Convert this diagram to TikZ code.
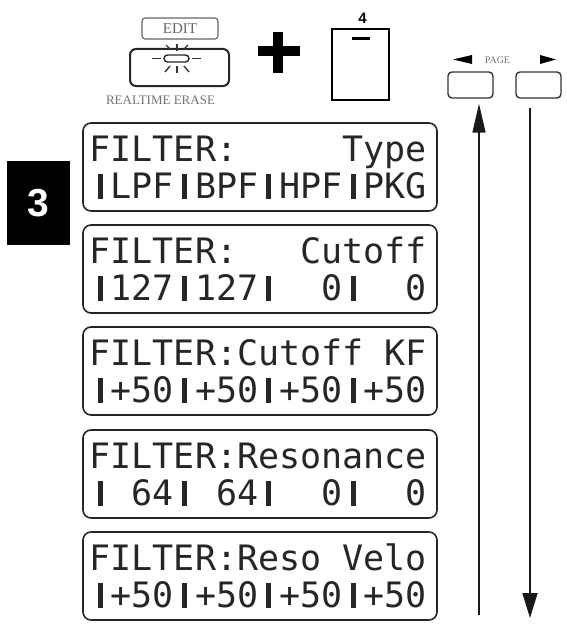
\documentclass[tikz,border=0pt]{standalone}
\usepackage{fontspec}
\usepackage{tikz}
\setmainfont{Liberation Serif}
\newfontfamily\lcdfont{DejaVu Sans Mono}
\newfontfamily\keyfont{Liberation Sans}
\newcommand{\sepbar}{\makebox[21.07pt]{\rule{5pt}{25pt}}}
\tikzset{>=stealth}
\usetikzlibrary{arrows.meta, positioning}
\tikzset{
  lcdframe/.style={draw=black!85, line width=1.6pt, rounded corners=8pt, minimum width=354pt, minimum height=88pt, inner sep=0pt},
  lcdrow/.style={anchor=base west, inner sep=0pt, text=black!85, font=\lcdfont\fontsize{35}{37}\selectfont},
  pagebtn/.style={draw=black!80, line width=1.4pt, rounded corners=4pt, minimum width=45pt, minimum height=26pt, inner sep=0pt},
  pagearrow/.style={line width=1.6pt, draw=black!90},
  ray/.style={line width=1.4pt, draw=black!80},
  smalllabel/.style={text=black!55, inner sep=0pt}
}

\begin{document}
\begin{tikzpicture}[x=1pt, y=-1pt]
  \useasboundingbox (0,0) rectangle (567,626);
  % step number
  \node[fill=black, minimum width=63pt, minimum height=84pt, inner sep=0pt, text=white, font=\keyfont\bfseries\fontsize{39}{39}\selectfont] (stepno) at (38.5,203) {3};
  % EDIT key
  \node[draw=black!60, line width=1.2pt, rounded corners=3pt, minimum width=76pt, minimum height=21pt, inner sep=0pt, text=black!60, font=\fontsize{15}{15}\selectfont] (editlbl) at (180,28.5) {EDIT};
  \node[draw=black!85, line width=2pt, rounded corners=6pt, minimum width=99pt, minimum height=37pt, inner sep=0pt] (editkey) at (179.5,67.5) {};
  \node[draw=black!85, line width=1.4pt, rounded corners=3.5pt, minimum width=25pt, minimum height=7pt, inner sep=0pt] (lamp) at (176.5,58.5) {};
  \foreach \xa/\ya/\xb/\yb in {152/58.5/161/58.5, 192/58.5/201/58.5, 177/44/177/51, 166/45/171/50, 188/45/183/50, 170/66/165/72, 177/66/177/73, 184/66/189/72}
    \draw[ray] (\xa,\ya) -- (\xb,\yb);
  \node[smalllabel, font=\fontsize{13}{13}\selectfont] (erase) at (160.5,100.5) {REALTIME ERASE};
  % plus
  \fill (258,46) rectangle (300,56);
  \fill (273,32) rectangle (283,73);
  % key 4
  \node[draw, line width=1.5pt, minimum width=57pt, minimum height=71pt, inner sep=0pt] (keyfour) at (360.5,64.5) {};
  \draw[line width=3pt] (352,39) -- (370,39);
  \node[inner sep=0pt, font=\keyfont\bfseries\fontsize{15}{15}\selectfont] (keyfournum) at (362.5,18.5) {4};
  % page keys
  \node[smalllabel, font=\fontsize{10}{10}\selectfont] (pagelbl) at (497.5,60) {PAGE};
  \fill (453,59.5) -- (472,55) -- (472,64) -- cycle;
  \fill (556,59.5) -- (540,55) -- (540,64) -- cycle;
  \node[pagebtn] (pageprev) at (470.5,85) {};
  \node[pagebtn] (pagenext) at (538.5,85) {};
  \coordinate (upfoot) at (479,615);
  \coordinate (downtip) at (530,618);
  \draw[pagearrow, -{Triangle[length=29pt,width=13pt]}] (upfoot) -- ([yshift=-5pt]pageprev.south -| upfoot);
  \draw[pagearrow, -{Triangle[length=25pt,width=15pt]}] ([yshift=-9pt]pagenext.south -| downtip) -- (downtip);
  % LCD screens
  \foreach \ty/\rowa/\rowb [count=\i] in {
      123/{FILTER:~~~~~Type}/{\sepbar LPF\sepbar BPF\sepbar HPF\sepbar PKG},
      225/{FILTER:~~~Cutoff}/{\sepbar 127\sepbar 127\sepbar~~0\sepbar~~0},
      327/{FILTER:Cutoff~KF}/{\sepbar +50\sepbar +50\sepbar +50\sepbar +50},
      430/{FILTER:Resonance}/{\sepbar~64\sepbar~64\sepbar~~0\sepbar~~0},
      532/{FILTER:Reso~Velo}/{\sepbar +50\sepbar +50\sepbar +50\sepbar +50}} {
    \node[lcdframe] (lcd\i) at (260,\ty+44) {};
    \node[lcdrow] (lcdtop\i) at (89.5,\ty+38) {\rowa};
    \node[lcdrow] (lcdbot\i) at (89.5,\ty+75.5) {\rowb};
  }
\end{tikzpicture}
\end{document}
